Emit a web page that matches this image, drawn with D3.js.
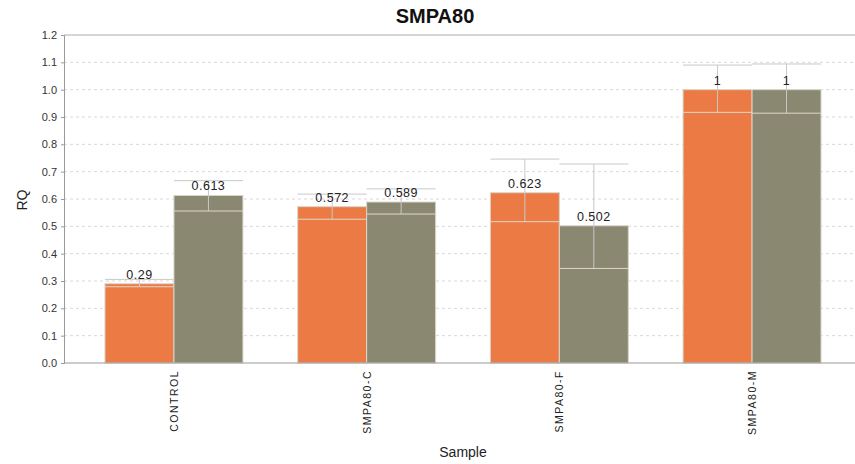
<!DOCTYPE html>
<html><head><meta charset="utf-8">
<script src="https://cdn.jsdelivr.net/npm/d3@7/dist/d3.min.js"></script>
<style>body{margin:0;background:#fff}svg{display:block;font-family:Arial,"Liberation Sans",sans-serif}</style>
</head><body><svg id="c" width="855" height="464"></svg>
<script>
const categories = ["CONTROL", "SMPA80-C", "SMPA80-F", "SMPA80-M"];
const seriesNames = ["A", "B"];
const seriesA = [0.29, 0.572, 0.623, 1];
const seriesB = [0.613, 0.589, 0.502, 1];
const seriesAMin = [0.279, 0.526, 0.517, 0.917];
const seriesAMax = [0.306, 0.618, 0.746, 1.090];
const seriesBMin = [0.556, 0.545, 0.346, 0.914];
const seriesBMax = [0.667, 0.637, 0.728, 1.094];
const labelsA = ["0.29", "0.572", "0.623", "1"];
const labelsB = ["0.613", "0.589", "0.502", "1"];
const yTicks = [0, 0.1, 0.2, 0.3, 0.4, 0.5, 0.6, 0.7, 0.8, 0.9, 1.0, 1.1, 1.2];
const colors = ["#EC7A44", "#8A8870"];

const svg = d3.select("#c");
const L = 64, R = 855, T = 35, B = 363;
const y = d3.scaleLinear().domain([0, 1.2]).range([B, T]);
const x0 = d3.scaleBand().domain(categories).range([77.6, 848.4]).paddingInner(0.284).paddingOuter(0.142);
const x1 = d3.scaleBand().domain(seriesNames).range([0, x0.bandwidth()]);

// grid
svg.append("g").selectAll("line").data(yTicks.slice(1, -1)).join("line")
  .attr("x1", L).attr("x2", R).attr("y1", d => y(d)).attr("y2", d => y(d))
  .attr("stroke", "#d8d8d8").attr("stroke-dasharray", "3,3");
svg.append("line").attr("x1", L).attr("x2", R).attr("y1", y(1.2)).attr("y2", y(1.2)).attr("stroke", "#aaa");

// y axis
const ya = svg.append("g").attr("transform", `translate(${L},0)`)
  .call(d3.axisLeft(y).tickValues(yTicks).tickFormat(d3.format(".1f")).tickSize(3).tickPadding(4));
ya.select(".domain").attr("stroke", "#999");
ya.selectAll(".tick line").attr("stroke", "#999");
ya.selectAll("text").attr("font-size", 11).attr("fill", "#333").attr("font-family", "Arial, Liberation Sans, sans-serif");

// data
const rows = categories.map((c, i) => ({c, vals: [
  {s: "A", v: seriesA[i], lo: seriesAMin[i], hi: seriesAMax[i], lab: labelsA[i], col: colors[0]},
  {s: "B", v: seriesB[i], lo: seriesBMin[i], hi: seriesBMax[i], lab: labelsB[i], col: colors[1]}
]}));

const g = svg.append("g").selectAll("g").data(rows).join("g")
  .attr("transform", d => `translate(${x0(d.c)},0)`);
const item = g.selectAll("g").data(d => d.vals).join("g");
item.append("rect")
  .attr("x", d => x1(d.s)).attr("width", x1.bandwidth())
  .attr("y", d => y(d.v)).attr("height", d => y(0) - y(d.v))
  .attr("fill", d => d.col).attr("stroke", "#d9d6cc").attr("stroke-width", 1);
// error bars
const ec = "#c8c8c8";
item.append("line").attr("x1", d => x1(d.s) + x1.bandwidth() / 2).attr("x2", d => x1(d.s) + x1.bandwidth() / 2)
  .attr("y1", d => y(d.lo)).attr("y2", d => y(d.hi)).attr("stroke", ec);
item.append("line").attr("x1", d => x1(d.s)).attr("x2", d => x1(d.s) + x1.bandwidth())
  .attr("y1", d => y(d.hi)).attr("y2", d => y(d.hi)).attr("stroke", ec);
item.append("line").attr("x1", d => x1(d.s)).attr("x2", d => x1(d.s) + x1.bandwidth())
  .attr("y1", d => y(d.lo)).attr("y2", d => y(d.lo)).attr("stroke", "#e0d8cc");
item.append("text").attr("x", d => x1(d.s) + x1.bandwidth() / 2).attr("y", d => y(d.v) - 5)
  .attr("text-anchor", "middle").attr("font-size", 12.5).attr("letter-spacing", 0.5).attr("fill", "#222").text(d => d.lab);

// x axis
svg.append("line").attr("x1", L).attr("x2", R).attr("y1", B).attr("y2", B).attr("stroke", "#999");
svg.append("g").selectAll("text").data(categories).join("text")
  .attr("transform", d => `translate(${x0(d) + x0.bandwidth() / 2 + 4},370) rotate(-90)`)
  .attr("text-anchor", "end").attr("font-size", 10.5).attr("letter-spacing", 1.5).attr("fill", "#222").text(d => d);

// titles
svg.append("text").attr("x", 435).attr("y", 23).attr("text-anchor", "middle")
  .attr("font-size", 20).attr("font-weight", "bold").attr("fill", "#111").text("SMPA80");
svg.append("text").attr("x", 463).attr("y", 457).attr("text-anchor", "middle")
  .attr("font-size", 14).attr("fill", "#222").text("Sample");
svg.append("text").attr("transform", "translate(27,200) rotate(-90)").attr("text-anchor", "middle")
  .attr("font-size", 14).attr("fill", "#222").text("RQ");
</script></body></html>
